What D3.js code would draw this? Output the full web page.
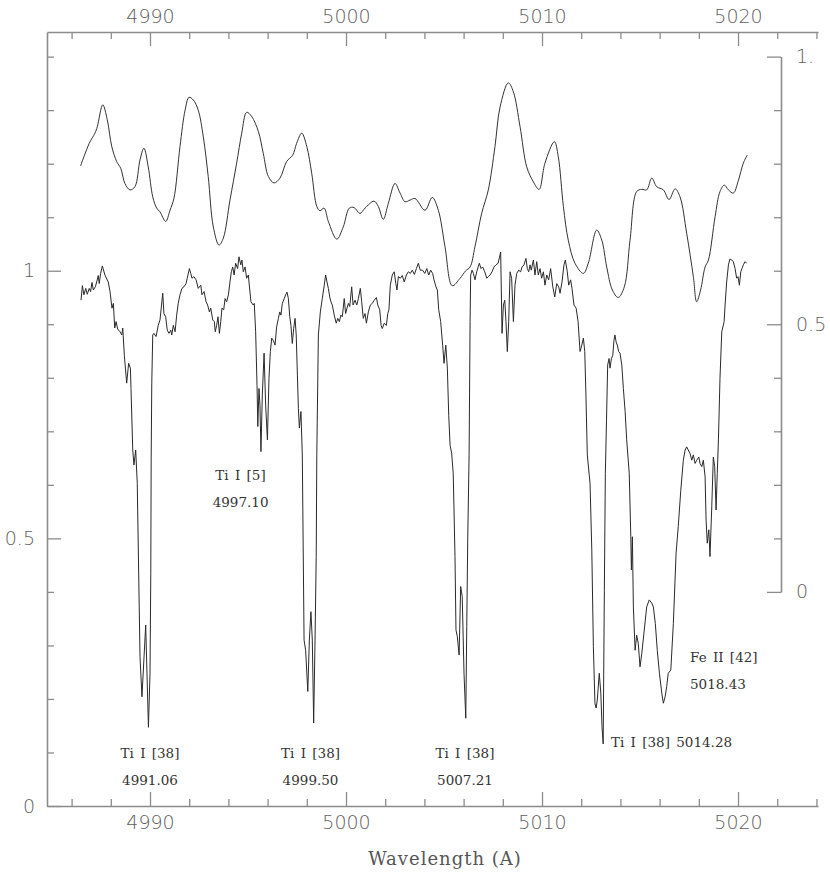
<!DOCTYPE html>
<html>
<head>
<meta charset="utf-8">
<script src="https://cdn.jsdelivr.net/npm/d3@7"></script>
<style>
  html, body { margin: 0; padding: 0; background: #fff; }
  svg { display: block; }
</style>
</head>
<body>
<div id="chart"></div>
<script>
// observed spectrum: [wavelength (A), normalised flux] -- left axis
const spectrum = [
  [4986.48,0.945],[4986.55,0.972],[4986.63,0.955],[4986.72,0.967],[4986.80,0.956],[4986.90,0.967],[4986.97,0.961],[4987.04,0.978],[4987.11,0.964],[4987.21,0.970],
  [4987.28,0.979],[4987.36,0.991],[4987.41,0.976],[4987.48,0.995],[4987.57,1.009],[4987.70,0.992],[4987.87,0.979],[4987.96,0.961],[4988.06,0.930],[4988.13,0.939],
  [4988.20,0.893],[4988.27,0.905],[4988.35,0.891],[4988.47,0.886],[4988.56,0.880],[4988.61,0.893],[4988.69,0.842],[4988.81,0.790],[4988.91,0.827],[4989.00,0.818],
  [4989.03,0.780],[4989.12,0.665],[4989.18,0.637],[4989.27,0.665],[4989.35,0.603],[4989.49,0.279],[4989.59,0.204],[4989.78,0.338],[4989.92,0.147],[4990.00,0.248],
  [4990.04,0.435],[4990.06,0.650],[4990.09,0.790],[4990.14,0.880],[4990.20,0.883],[4990.31,0.877],[4990.42,0.898],[4990.51,0.908],[4990.65,0.958],[4990.71,0.920],
  [4990.80,0.914],[4990.88,0.889],[4990.97,0.883],[4991.06,0.889],[4991.11,0.880],[4991.19,0.898],[4991.28,0.886],[4991.36,0.917],[4991.44,0.939],[4991.53,0.955],
  [4991.63,0.967],[4991.73,0.970],[4991.84,0.976],[4991.90,0.986],[4992.01,1.004],[4992.08,0.995],[4992.14,0.986],[4992.24,0.989],[4992.35,0.983],[4992.46,0.967],
  [4992.59,0.973],[4992.65,0.955],[4992.76,0.961],[4992.86,0.942],[4992.94,0.936],[4993.03,0.923],[4993.10,0.930],[4993.20,0.908],[4993.28,0.905],[4993.33,0.886],
  [4993.40,0.898],[4993.47,0.914],[4993.54,0.883],[4993.61,0.905],[4993.67,0.930],[4993.76,0.927],[4993.83,0.948],[4993.91,0.942],[4994.00,0.955],[4994.08,0.979],
  [4994.15,0.998],[4994.22,1.007],[4994.29,0.992],[4994.37,1.014],[4994.47,1.004],[4994.54,1.026],[4994.63,1.011],[4994.69,1.020],[4994.76,0.998],[4994.85,1.007],
  [4994.93,0.986],[4995.02,0.992],[4995.05,0.979],[4995.15,0.942],[4995.26,0.936],[4995.32,0.939],[4995.39,0.886],[4995.46,0.786],[4995.50,0.709],[4995.56,0.780],
  [4995.61,0.749],[4995.66,0.662],[4995.73,0.768],[4995.82,0.846],[4995.90,0.749],[4995.99,0.684],[4996.07,0.799],[4996.14,0.849],[4996.21,0.874],[4996.29,0.870],
  [4996.38,0.861],[4996.46,0.895],[4996.55,0.911],[4996.62,0.923],[4996.68,0.917],[4996.75,0.939],[4996.85,0.948],[4996.92,0.955],[4996.99,0.960],[4997.06,0.948],
  [4997.13,0.914],[4997.19,0.898],[4997.26,0.864],[4997.33,0.892],[4997.40,0.911],[4997.46,0.880],[4997.52,0.805],[4997.57,0.743],[4997.62,0.706],[4997.70,0.737],
  [4997.77,0.656],[4997.86,0.310],[4997.94,0.291],[4998.05,0.214],[4998.13,0.310],[4998.21,0.363],[4998.28,0.310],[4998.35,0.155],[4998.42,0.310],[4998.48,0.466],
  [4998.51,0.656],[4998.59,0.880],[4998.69,0.923],[4998.79,0.948],[4998.89,0.973],[4998.96,0.992],[4999.03,0.979],[4999.10,0.967],[4999.17,0.951],[4999.23,0.942],
  [4999.30,0.936],[4999.40,0.917],[4999.50,0.902],[4999.58,0.911],[4999.66,0.905],[4999.74,0.917],[4999.81,0.914],[4999.91,0.948],[4999.98,0.920],[5000.05,0.930],
  [5000.12,0.939],[5000.19,0.933],[5000.29,0.970],[5000.36,0.936],[5000.46,0.945],[5000.55,0.936],[5000.63,0.948],[5000.73,0.967],[5000.80,0.942],[5000.88,0.911],
  [5000.97,0.920],[5001.04,0.902],[5001.14,0.923],[5001.24,0.936],[5001.34,0.939],[5001.44,0.945],[5001.55,0.950],[5001.62,0.936],[5001.72,0.927],[5001.79,0.898],
  [5001.85,0.892],[5001.95,0.902],[5002.06,0.898],[5002.13,0.920],[5002.19,0.927],[5002.26,0.973],[5002.36,0.992],[5002.46,0.998],[5002.54,0.976],[5002.60,0.964],
  [5002.67,0.989],[5002.77,0.986],[5002.87,0.991],[5002.97,0.979],[5003.08,0.992],[5003.18,0.998],[5003.28,0.995],[5003.38,1.001],[5003.49,0.993],[5003.59,1.004],
  [5003.69,1.014],[5003.79,1.001],[5003.91,1.001],[5004.02,0.995],[5004.12,1.004],[5004.22,0.992],[5004.32,1.001],[5004.42,0.995],[5004.49,0.983],[5004.59,0.970],
  [5004.66,0.964],[5004.73,0.927],[5004.83,0.905],[5004.93,0.861],[5005.00,0.827],[5005.09,0.861],[5005.17,0.818],[5005.24,0.730],[5005.31,0.674],[5005.39,0.659],
  [5005.47,0.621],[5005.56,0.466],[5005.61,0.329],[5005.68,0.316],[5005.77,0.282],[5005.85,0.410],[5005.93,0.391],[5006.02,0.248],[5006.11,0.164],[5006.16,0.335],
  [5006.21,0.497],[5006.28,0.656],[5006.33,0.905],[5006.36,0.992],[5006.43,1.001],[5006.50,0.995],[5006.58,0.983],[5006.67,0.998],[5006.74,1.007],[5006.80,1.014],
  [5006.89,1.004],[5006.97,1.007],[5007.08,0.998],[5007.18,0.986],[5007.26,0.989],[5007.35,0.992],[5007.45,0.998],[5007.55,1.007],[5007.65,1.011],[5007.76,1.014],
  [5007.89,1.035],[5007.96,0.883],[5008.03,0.936],[5008.10,0.945],[5008.16,0.905],[5008.23,0.849],[5008.30,0.905],[5008.37,0.998],[5008.45,0.986],[5008.54,0.905],
  [5008.62,0.973],[5008.71,0.995],[5008.81,1.001],[5008.91,0.998],[5008.98,1.007],[5009.08,1.011],[5009.18,1.023],[5009.25,1.004],[5009.32,0.998],[5009.39,1.011],
  [5009.45,1.001],[5009.56,1.020],[5009.64,0.992],[5009.73,1.017],[5009.81,0.992],[5009.90,1.004],[5009.98,0.986],[5010.07,0.998],[5010.15,0.973],[5010.24,0.992],
  [5010.34,0.983],[5010.44,1.004],[5010.55,0.970],[5010.65,0.951],[5010.75,0.976],[5010.85,0.970],[5010.92,0.958],[5011.02,0.979],[5011.12,1.011],[5011.19,1.020],
  [5011.29,0.998],[5011.36,0.973],[5011.46,0.983],[5011.53,0.967],[5011.63,0.936],[5011.74,0.930],[5011.84,0.905],[5011.94,0.849],[5012.03,0.861],[5012.11,0.874],
  [5012.18,0.849],[5012.24,0.768],[5012.31,0.656],[5012.45,0.603],[5012.54,0.478],[5012.62,0.298],[5012.70,0.192],[5012.76,0.183],[5012.82,0.198],[5012.92,0.248],
  [5013.00,0.211],[5013.06,0.148],[5013.12,0.116],[5013.18,0.403],[5013.23,0.621],[5013.29,0.721],[5013.35,0.824],[5013.42,0.836],[5013.47,0.818],[5013.54,0.836],
  [5013.61,0.842],[5013.67,0.870],[5013.72,0.880],[5013.78,0.867],[5013.84,0.861],[5013.91,0.849],[5013.98,0.846],[5014.07,0.824],[5014.15,0.780],[5014.24,0.737],
  [5014.32,0.684],[5014.45,0.621],[5014.53,0.503],[5014.56,0.441],[5014.61,0.503],[5014.66,0.372],[5014.75,0.291],[5014.83,0.319],[5014.91,0.304],[5015.00,0.260],
  [5015.09,0.285],[5015.20,0.323],[5015.34,0.372],[5015.47,0.385],[5015.60,0.379],[5015.68,0.372],[5015.78,0.341],[5015.88,0.291],[5015.99,0.248],[5016.11,0.211],
  [5016.19,0.192],[5016.28,0.204],[5016.36,0.223],[5016.44,0.248],[5016.57,0.254],[5016.70,0.341],[5016.84,0.472],[5016.95,0.522],[5017.08,0.590],[5017.21,0.646],
  [5017.30,0.665],[5017.38,0.671],[5017.46,0.665],[5017.55,0.659],[5017.64,0.646],[5017.72,0.656],[5017.81,0.640],[5017.89,0.646],[5018.00,0.652],[5018.06,0.640],
  [5018.15,0.634],[5018.23,0.646],[5018.32,0.615],[5018.37,0.534],[5018.43,0.491],[5018.51,0.516],[5018.57,0.466],[5018.66,0.559],[5018.74,0.652],[5018.81,0.634],
  [5018.88,0.553],[5018.94,0.621],[5019.00,0.684],[5019.08,0.799],[5019.17,0.886],[5019.29,0.905],[5019.34,0.936],[5019.42,0.979],[5019.51,1.011],[5019.59,1.022],
  [5019.68,1.020],[5019.76,1.017],[5019.85,1.004],[5019.93,0.986],[5020.00,0.989],[5020.07,0.973],[5020.14,0.998],[5020.20,1.004],[5020.27,1.011],[5020.36,1.017],
  [5020.44,1.014]
];

// smoothed comparison spectrum: [wavelength (A), value on right axis]
const smoothSpectrum = [
  [4986.46,0.796],[4986.90,0.838],[4987.19,0.857],[4987.31,0.869],[4987.59,0.910],[4987.82,0.882],[4988.05,0.832],[4988.30,0.804],[4988.51,0.791],[4988.72,0.763],
  [4988.98,0.751],[4989.23,0.757],[4989.49,0.807],[4989.69,0.829],[4989.91,0.794],[4990.14,0.738],[4990.34,0.717],[4990.51,0.710],[4990.80,0.692],[4991.02,0.713],
  [4991.22,0.735],[4991.53,0.832],[4991.79,0.900],[4991.99,0.924],[4992.21,0.919],[4992.46,0.900],[4992.72,0.850],[4992.97,0.776],[4993.23,0.682],[4993.52,0.648],
  [4993.74,0.661],[4994.08,0.732],[4994.42,0.801],[4994.68,0.857],[4994.93,0.896],[4995.19,0.888],[4995.53,0.860],[4995.78,0.819],[4996.04,0.776],[4996.33,0.764],
  [4996.63,0.773],[4996.97,0.804],[4997.28,0.816],[4997.48,0.838],[4997.74,0.857],[4998.00,0.832],[4998.25,0.782],[4998.51,0.720],[4998.67,0.712],[4998.88,0.717],
  [4999.10,0.692],[4999.53,0.659],[4999.86,0.682],[5000.17,0.717],[5000.41,0.718],[5000.71,0.707],[5000.97,0.717],[5001.43,0.730],[5001.65,0.720],[5001.90,0.696],
  [5002.16,0.726],[5002.50,0.763],[5002.76,0.745],[5003.01,0.729],[5003.27,0.732],[5003.52,0.735],[5004.03,0.713],[5004.40,0.737],[5004.71,0.713],[5005.05,0.645],
  [5005.42,0.572],[5005.82,0.586],[5006.11,0.600],[5006.33,0.607],[5006.58,0.645],[5006.92,0.707],[5007.26,0.751],[5007.60,0.832],[5007.86,0.906],[5008.28,0.951],
  [5008.54,0.934],[5008.88,0.869],[5009.22,0.794],[5009.56,0.766],[5009.85,0.752],[5010.15,0.801],[5010.63,0.841],[5010.83,0.813],[5011.09,0.720],[5011.34,0.657],
  [5011.68,0.614],[5012.11,0.595],[5012.36,0.614],[5012.79,0.676],[5013.05,0.657],[5013.30,0.607],[5013.59,0.564],[5013.89,0.550],[5014.20,0.570],[5014.49,0.657],
  [5014.83,0.748],[5015.09,0.752],[5015.34,0.751],[5015.60,0.773],[5015.85,0.757],[5016.19,0.751],[5016.48,0.733],[5016.79,0.753],[5017.04,0.738],[5017.38,0.670],
  [5017.72,0.589],[5017.89,0.542],[5018.09,0.564],[5018.32,0.607],[5018.49,0.620],[5018.83,0.701],[5019.08,0.748],[5019.30,0.760],[5019.51,0.751],[5019.76,0.745],
  [5020.02,0.769],[5020.27,0.801],[5020.47,0.816]
];

// axis ticks
const xMajorTicks = [4990, 5000, 5010, 5020];
const xMinorTicks = [4986, 4988, 4992, 4994, 4996, 4998, 5002, 5004, 5006, 5008, 5012, 5014, 5016, 5018, 5022, 5024];
const leftMajorTicks = [0, 0.5, 1];
const leftTickLabels = ["0", "0.5", "1"];
const leftMinorTicks = [0.1, 0.2, 0.3, 0.4, 0.6, 0.7, 0.8, 0.9, 1.1, 1.2, 1.3, 1.4];
const rightMajorTicks = [0, 0.5, 1];
const rightTickLabels = ["0", "0.5", "1."];
const rightMinorTicks = [0.1, 0.2, 0.3, 0.4, 0.6, 0.7, 0.8, 0.9];

// line identifications
const lineIds = [
  { name: "Ti I [5]",  wl: "4997.10", x: 4994.62, y: 0.609, anchor: "middle" },
  { name: "Ti I [38]", wl: "4991.06", x: 4990.00, y: 0.090, anchor: "middle" },
  { name: "Ti I [38]", wl: "4999.50", x: 4998.19, y: 0.090, anchor: "middle" },
  { name: "Ti I [38]", wl: "5007.21", x: 5006.07, y: 0.090, anchor: "middle" },
  { name: "Fe II [42]", wl: "5018.43", x: 5017.55, y: 0.269, anchor: "start" }
];
const inlineIds = [
  { text: "Ti I [38] 5014.28", x: 5013.52, y: 0.110 }
];

const W = 830, H = 872;
const axisColor = "#8c8c8c";
const labelColor = "#606060";
const tickFont = "DejaVu Sans, sans-serif";
const serifFont = "DejaVu Serif, serif";

const svg = d3.select("#chart").append("svg")
  .attr("width", W)
  .attr("height", H);

const x = d3.scaleLinear().domain([4984.745, 5024.08]).range([47, 818]);
const y = d3.scaleLinear().domain([0, 1.446]).range([806, 32]);
// right-hand axis is offset by 0.4 from the left one
const yRight = d3.scaleLinear().domain([-0.4, 1.046]).range([806, 32]);

function styleAxis(g, keepDomain) {
  g.selectAll(".tick line").attr("stroke", axisColor).attr("stroke-width", 1.3);
  g.select(".domain").attr("stroke", axisColor).attr("stroke-width", 1.6);
  if (!keepDomain) g.select(".domain").remove();
  g.selectAll("text")
    .attr("fill", labelColor)
    .style("font-family", tickFont)
    .style("font-size", "19px")
    .style("font-weight", 300);
}

// bottom axis
svg.append("g").attr("transform", "translate(0,806)")
  .call(d3.axisBottom(x).tickValues(xMinorTicks).tickSizeInner(-7).tickSizeOuter(0).tickFormat(""))
  .call(g => styleAxis(g, false));
svg.append("g").attr("transform", "translate(0,806)")
  .call(d3.axisBottom(x).tickValues(xMajorTicks).tickSizeInner(-14).tickSizeOuter(0).tickPadding(10).tickFormat(d3.format("d")))
  .call(g => styleAxis(g, true));

// top axis
svg.append("g").attr("transform", "translate(0,32)")
  .call(d3.axisTop(x).tickValues(xMinorTicks).tickSizeInner(-7).tickSizeOuter(0).tickFormat(""))
  .call(g => styleAxis(g, false));
svg.append("g").attr("transform", "translate(0,32)")
  .call(d3.axisTop(x).tickValues(xMajorTicks).tickSizeInner(-14).tickSizeOuter(0).tickPadding(9).tickFormat(d3.format("d")))
  .call(g => styleAxis(g, true));

// left axis
svg.append("g").attr("transform", "translate(47,0)")
  .call(d3.axisLeft(y).tickValues(leftMinorTicks).tickSizeInner(-7).tickSizeOuter(0).tickFormat(""))
  .call(g => styleAxis(g, false));
svg.append("g").attr("transform", "translate(47,0)")
  .call(d3.axisLeft(y).tickValues(leftMajorTicks).tickSizeInner(-14).tickSizeOuter(0).tickPadding(12)
    .tickFormat((d, i) => leftTickLabels[i]))
  .call(g => styleAxis(g, true));

// right axis (only spans 0..1)
const yR = yRight.copy().domain([0, 1]).range([yRight(0), yRight(1)]);
svg.append("g").attr("transform", "translate(781,0)")
  .call(d3.axisRight(yR).tickValues(rightMinorTicks).tickSizeInner(-7).tickSizeOuter(0).tickFormat(""))
  .call(g => styleAxis(g, false));
svg.append("g").attr("transform", "translate(781,0)")
  .call(d3.axisRight(yR).tickValues(rightMajorTicks).tickSizeInner(-14).tickSizeOuter(0).tickPadding(15)
    .tickFormat((d, i) => rightTickLabels[i]))
  .call(g => styleAxis(g, true));

// spectra
svg.append("path")
  .datum(smoothSpectrum)
  .attr("fill", "none")
  .attr("stroke", "#333")
  .attr("stroke-width", 1)
  .attr("d", d3.line().x(d => x(d[0])).y(d => yRight(d[1])).curve(d3.curveCatmullRom.alpha(0.5)));

svg.append("path")
  .datum(spectrum)
  .attr("fill", "none")
  .attr("stroke", "#2a2a2a")
  .attr("stroke-width", 1)
  .attr("stroke-linejoin", "round")
  .attr("d", d3.line().x(d => x(d[0])).y(d => y(d[1])));

// line identifications
const ids = svg.append("g")
  .style("font-family", serifFont)
  .style("font-size", "13.5px")
  .attr("fill", "#333");

lineIds.forEach(d => {
  ids.append("text")
    .attr("x", x(d.x)).attr("y", y(d.y))
    .attr("text-anchor", d.anchor)
    .style("word-spacing", "2px")
    .text(d.name);
  ids.append("text")
    .attr("x", x(d.x)).attr("y", y(d.y) + 27)
    .attr("text-anchor", d.anchor)
    .text(d.wl);
});
inlineIds.forEach(d => {
  ids.append("text")
    .attr("x", x(d.x)).attr("y", y(d.y))
    .style("word-spacing", "2px")
    .text(d.text);
});

// axis title
svg.append("text")
  .attr("x", 445).attr("y", 865)
  .attr("text-anchor", "middle")
  .attr("fill", "#555")
  .style("font-family", serifFont)
  .style("font-size", "18px")
  .style("letter-spacing", "1px")
  .text("Wavelength (A)");
</script>
</body>
</html>
